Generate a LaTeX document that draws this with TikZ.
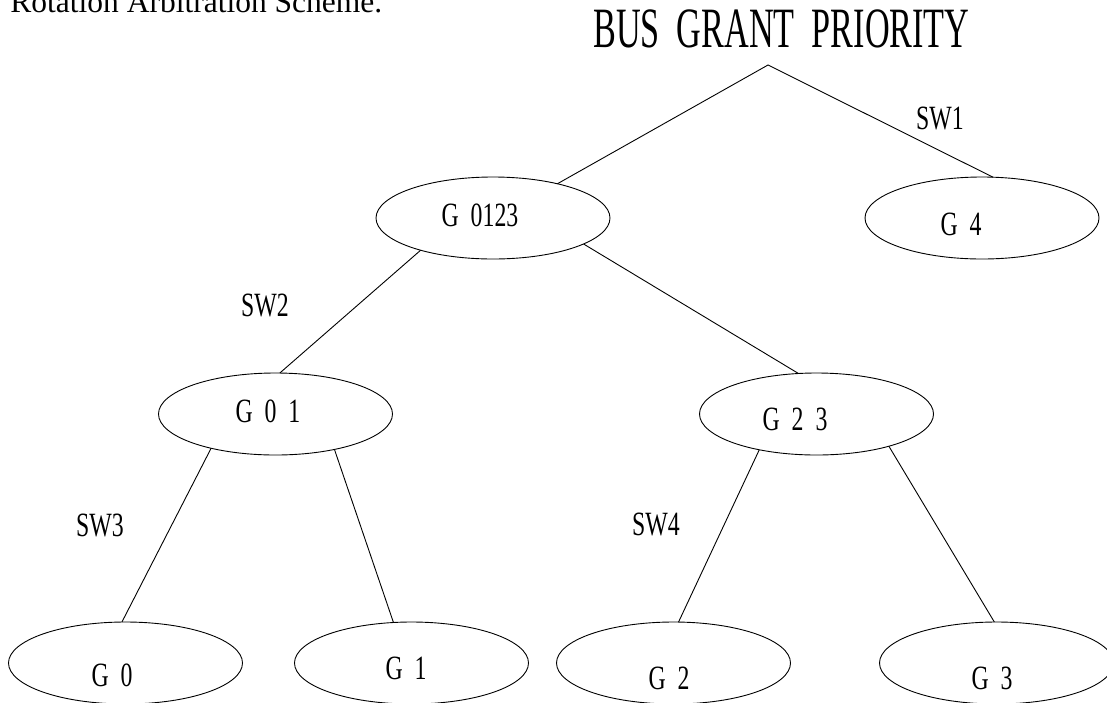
\documentclass[tikz,border=0pt]{standalone}
\usepackage{fontspec}
\setmainfont{Liberation Serif}
\newfontfamily\plotfont[FakeStretch=0.7,WordSpace=2]{Liberation Serif}
\newfontfamily\titlefont[FakeStretch=0.6,WordSpace=2]{Liberation Serif}
\usetikzlibrary{shapes.geometric}

\begin{document}
\begin{tikzpicture}[x=1pt, y=-1pt, line width=0.9pt,
    gate/.style={draw, ellipse, minimum width=234pt, minimum height=82pt, inner sep=0pt, outer sep=0pt},
    tag/.style={inner sep=0pt, font=\plotfont\fontsize{34}{40}\selectfont}]
  \useasboundingbox (0,0) rectangle (1107,702);

  \node [anchor=base west, inner sep=0pt, font=\fontsize{31.5}{36}\selectfont] (caption) at (10,12.5) { Rotation Arbitration Scheme. };
  \node [inner sep=0pt, font=\titlefont\fontsize{57}{64}\selectfont] (title) at (781.5,29) { BUS GRANT PRIORITY };
  \coordinate (apex) at (768,65);

  % ellipses
  \node [gate] (g0123) at (493,218) {};
  \node [gate] (g4) at (982,218) {};
  \node [gate] (g01) at (275.5,414) {};
  \node [gate] (g23) at (816.5,414) {};
  \node [gate] (g0) at (125.5,663) {};
  \node [gate] (g1) at (411.5,663) {};
  \node [gate] (g2) at (673.5,663) {};
  \node [gate] (g3) at (996.5,663) {};

  % texts in the ellipses
  \node [tag] (t0123) at (480,215) { G 0123 };
  \node [tag] (t4) at (961,224) { G 4 };
  \node [tag] (t01) at (268,411.5) { G 0 1 };
  \node [tag] (t23) at (795,419.5) { G 2 3 };
  \node [tag] (t0) at (112,675) { G 0 };
  \node [tag] (t1) at (406,668) { G 1 };
  \node [tag] (t2) at (669,678) { G 2 };
  \node [tag] (t3) at (992,678) { G 3 };

  % switches
  \node [tag] (sw1) at (940,118) { SW1 };
  \node [tag] (sw2) at (265,305) { SW2 };
  \node [tag] (sw3) at (100,525) { SW3 };
  \node [tag] (sw4) at (656,524) { SW4 };

  \draw (g0123.28) -- (apex) -- (g4.75);
  \draw (g0123.204) -- (g01.84);
  \draw (g0123.344) -- (g23.114);
  \draw (g01.208) -- (g0.95);
  \draw (g01.329) -- (g1.114);
  \draw (g23.212) -- (g2.83);
  \draw (g23.336) -- (g3.93);
\end{tikzpicture}
\end{document}
